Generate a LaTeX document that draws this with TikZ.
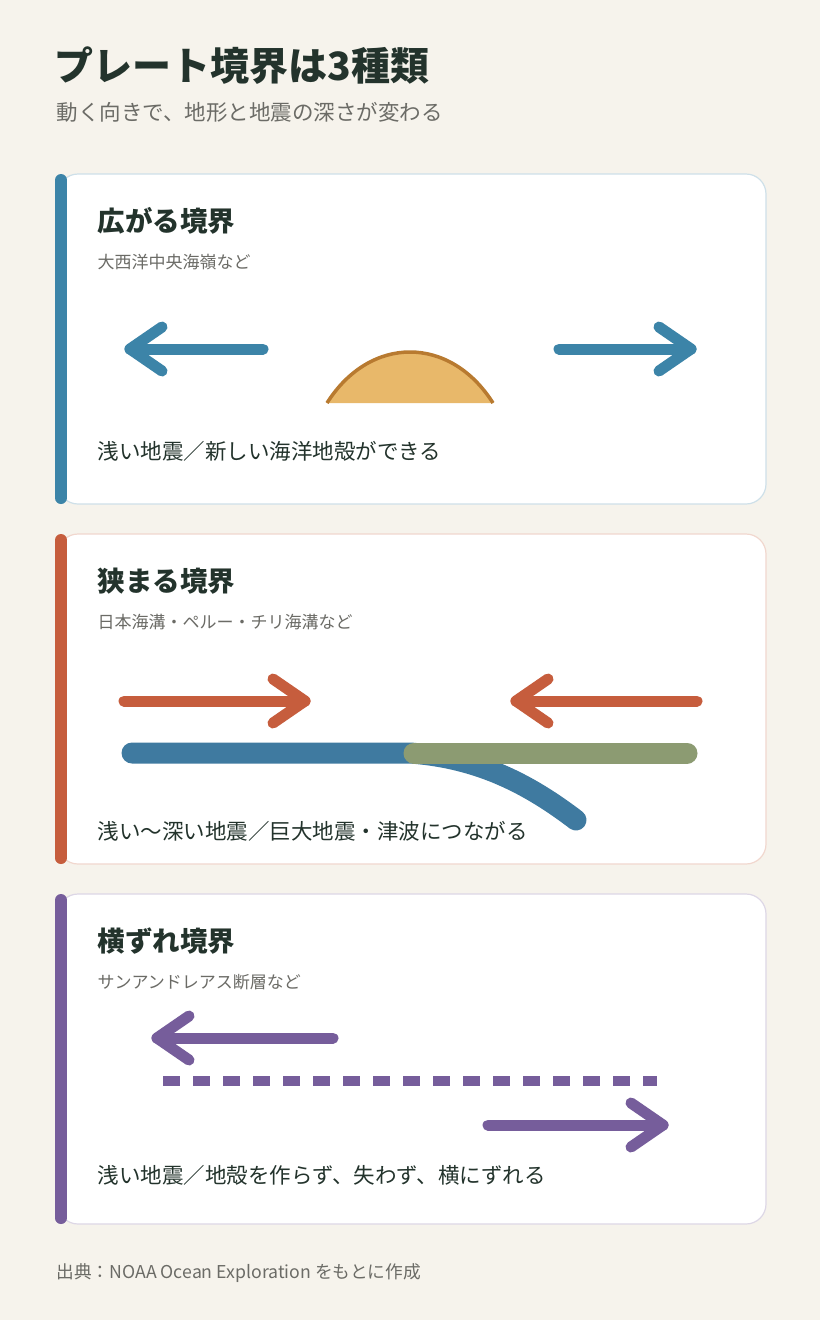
\documentclass[tikz,border=0pt]{standalone}
\usepackage{fontspec}
\setmainfont{Noto Sans CJK JP}
\usetikzlibrary{positioning,calc}
\definecolor{bg}{HTML}{F6F3EC}
\definecolor{ink}{HTML}{23332C}
\definecolor{sub}{HTML}{6B6B66}
\definecolor{cblue}{HTML}{3C84A8}
\definecolor{cred}{HTML}{C65D3D}
\definecolor{cpurple}{HTML}{765D9B}
\definecolor{ridge}{HTML}{E8B86A}
\definecolor{ridgeline}{HTML}{B87A30}
\definecolor{plate}{HTML}{3F7AA0}
\definecolor{green}{HTML}{8C9B72}
\tikzset{
  card/.style={fill=white,draw=#1!25,line width=1.2pt,rounded corners=20pt},
  bar/.style={line width=12pt,line cap=round,draw=#1},
  head/.style={anchor=west,text=ink,font=\bfseries\fontsize{27.5}{32}\selectfont},
  note/.style={anchor=west,text=sub,font=\fontsize{17}{20}\selectfont},
  body/.style={anchor=west,text=ink,font=\fontsize{21.5}{26}\selectfont},
  mv/.style={line width=11pt,line cap=round,line join=round,draw=#1},
}
\begin{document}
\begin{tikzpicture}[x=1pt,y=-1pt]
\fill[bg] (0,0) rectangle (820,1320);
\useasboundingbox (0,0) rectangle (820,1320);
% title
\node[anchor=west,text=ink,font=\bfseries\fontsize{39}{44}\selectfont] (title) at (51,66) {プレート境界は3種類};
\node[anchor=west,text=sub,font=\fontsize{21.5}{26}\selectfont] (subtitle) at (53,112) {動く向きで、地形と地震の深さが変わる};
% cards
\foreach \y/\c in {174/cblue,534/cred,894/cpurple}{
  \draw[card=\c] (58,\y) rectangle (766,\y+330);
  \draw[bar=\c] (61,\y+6) -- (61,\y+324);
}
% divergent
\node[head] (h1) at (94,221) {広がる境界};
\node[note] (n1) at (94,262) {大西洋中央海嶺など};
\coordinate (l1s) at (263,349); \coordinate (l1e) at (130,349);
\coordinate (r1s) at (559,349); \coordinate (r1e) at (691,349);
\draw[mv=cblue] (l1s) -- (l1e);
\draw[mv=cblue] ($(l1e)+(32,-22)$) -- (l1e) -- ($(l1e)+(32,22)$);
\draw[mv=cblue] (r1s) -- (r1e);
\draw[mv=cblue] ($(r1e)+(-32,-22)$) -- (r1e) -- ($(r1e)+(-32,22)$);
\coordinate (rA) at (327,403); \coordinate (rB) at (493,403);
\fill[ridge] (rA) .. controls (370,335) and (450,335) .. (rB) -- cycle;
\draw[ridgeline,line width=3.5pt] (rA) .. controls (370,335) and (450,335) .. (rB);
\node[body] (b1) at (94,451) {浅い地震／新しい海洋地殻ができる};
% convergent
\node[head] (h2) at (94,581) {狭まる境界};
\node[note] (n2) at (94,622) {日本海溝・ペルー・チリ海溝など};
\coordinate (l2s) at (124,701); \coordinate (l2e) at (305,701);
\coordinate (r2s) at (697,701); \coordinate (r2e) at (516,701);
\draw[mv=cred] (l2s) -- (l2e);
\draw[mv=cred] ($(l2e)+(-32,-22)$) -- (l2e) -- ($(l2e)+(-32,22)$);
\draw[mv=cred] (r2s) -- (r2e);
\draw[mv=cred] ($(r2e)+(32,-22)$) -- (r2e) -- ($(r2e)+(32,22)$);
\coordinate (p1) at (132,753); \coordinate (p2) at (410,753); \coordinate (p3) at (576,820);
\draw[plate,line width=21pt,line cap=round] (p1) -- (p2) .. controls (480,758) and (530,785) .. (p3);
\coordinate (g1) at (414,753); \coordinate (g2) at (687,753);
\draw[green,line width=21pt,line cap=round] (g1) -- (g2);
\node[body] (b2) at (94,831) {浅い〜深い地震／巨大地震・津波につながる};
% transform
\node[head] (h3) at (94,941) {横ずれ境界};
\node[note] (n3) at (94,982) {サンアンドレアス断層など};
\coordinate (l3s) at (333,1038); \coordinate (l3e) at (157,1038);
\coordinate (r3s) at (488,1125); \coordinate (r3e) at (663,1125);
\draw[mv=cpurple] (l3s) -- (l3e);
\draw[mv=cpurple] ($(l3e)+(32,-22)$) -- (l3e) -- ($(l3e)+(32,22)$);
\draw[mv=cpurple] (r3s) -- (r3e);
\draw[mv=cpurple] ($(r3e)+(-32,-22)$) -- (r3e) -- ($(r3e)+(-32,22)$);
\coordinate (f1) at (163,1081); \coordinate (f2) at (657,1081);
\draw[cpurple,line width=10pt,dash pattern=on 17pt off 13pt] (f1) -- (f2);
\node[body] (b3) at (94,1175) {浅い地震／地殻を作らず、失わず、横にずれる};
% source
\node[anchor=west,text=sub,font=\fontsize{17.7}{21}\selectfont] (src) at (53,1273) {出典：NOAA Ocean Exploration をもとに作成};
\end{tikzpicture}
\end{document}
